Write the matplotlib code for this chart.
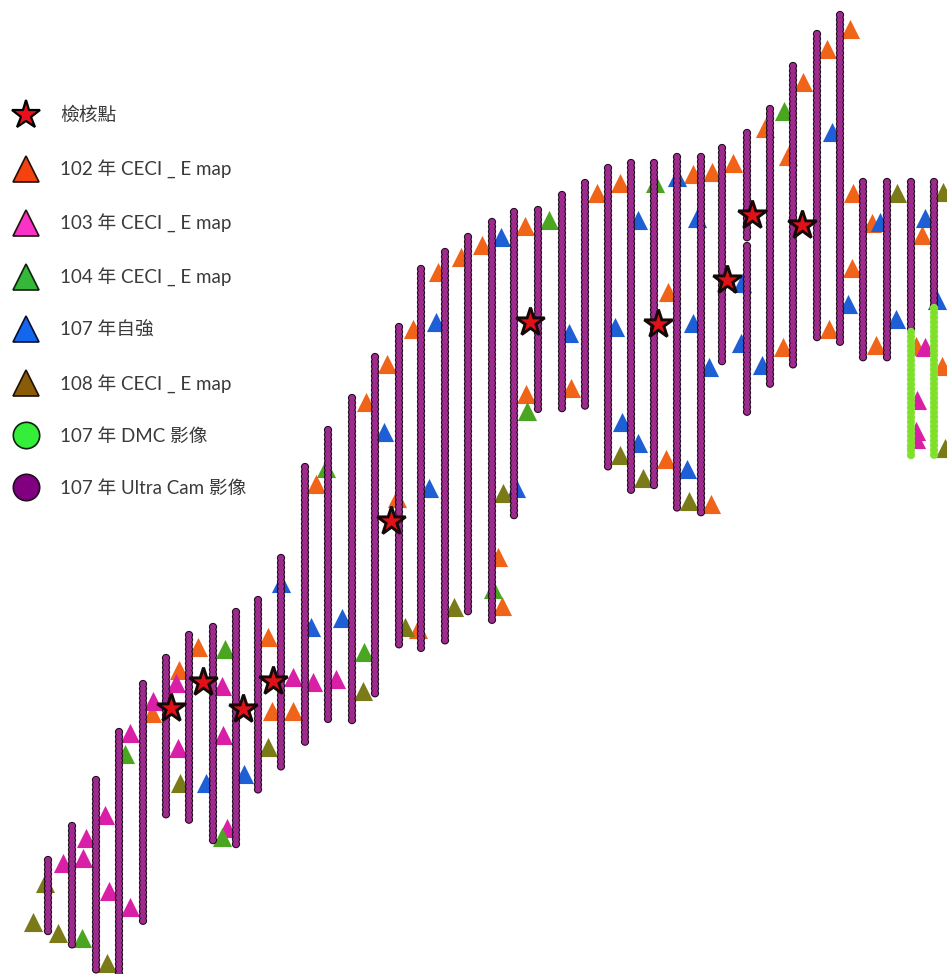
import matplotlib
matplotlib.use("Agg")
import matplotlib.pyplot as plt
from matplotlib.lines import Line2D

plt.rcParams['font.family'] = ['Lato', 'Noto Sans CJK TC', 'DejaVu Sans']
plt.rcParams['lines.scale_dashes'] = False

# Flight strips of the 107 Ultra Cam images: x, top y, bottom y (image coordinates)
ultra_x = [48, 72, 96, 119, 143, 166, 189, 213, 236, 258, 281, 305, 328, 352, 375, 399, 421, 445, 468, 492,
           514, 538, 562, 585, 608, 631, 654, 677, 701, 722, 747, 747, 770, 793, 817, 840, 863, 887, 911, 934]
ultra_top = [860, 826, 780, 732, 684, 658, 635, 627, 612, 600, 558, 467, 430, 398, 357, 327, 269, 252, 237, 222,
             212, 210, 195, 183, 168, 163, 163, 157, 157, 148, 133, 246, 109, 66, 34, 15, 182, 182, 182, 182]
ultra_bottom = [932, 947, 974, 974, 922, 818, 823, 843, 845, 792, 767, 743, 722, 722, 695, 647, 648, 645, 615, 620,
                518, 410, 410, 410, 467, 490, 489, 512, 515, 365, 239, 415, 387, 365, 341, 342, 358, 358, 332, 308]

# Flight strips of the 107 DMC images
dmc_x = [911, 934]
dmc_top = [332, 308]
dmc_bottom = [458, 458]

# Check points
check_x = [171, 203, 243, 273, 391, 530, 658, 727, 752, 802]
check_y = [708, 682, 709, 681, 521, 322, 324, 280, 215, 225]

# Control points per year
y102_x = [597, 620, 693, 712, 733, 765, 803, 827, 850, 788, 853, 852, 872, 668, 876, 922, 916, 942, 316, 387, 366, 413,
          438, 461, 482, 525, 526, 571, 397, 498, 502, 418, 293, 272, 268, 666, 711, 783, 829, 198, 179, 152]
y102_y = [193, 183, 174, 172, 163, 128, 82, 49, 29, 156, 193, 268, 223, 292, 345, 235, 346, 366, 484, 364, 402, 329,
          272, 257, 245, 226, 394, 388, 498, 557, 606, 629, 711, 711, 637, 459, 504, 347, 329, 647, 670, 713]
y103_x = [63, 86, 83, 105, 109, 130, 130, 153, 176, 178, 222, 223, 227, 293, 313, 336, 925, 917, 916, 916]
y103_y = [863, 838, 858, 815, 891, 907, 733, 701, 683, 748, 686, 735, 828, 677, 682, 679, 347, 400, 431, 439]
y104_x = [125, 82, 222, 225, 549, 527, 326, 655, 784, 364, 493]
y104_y = [754, 938, 837, 649, 220, 411, 468, 183, 111, 652, 589]
y107_x = [384, 436, 501, 429, 516, 311, 342, 281, 244, 206, 638, 697, 677, 832, 569, 615, 693, 709, 742, 741, 762,
          848, 622, 638, 687, 880, 896, 925, 937]
y107_y = [432, 322, 237, 488, 488, 627, 618, 583, 774, 783, 220, 218, 177, 132, 333, 327, 323, 367, 283, 343, 365,
          304, 422, 443, 469, 222, 319, 218, 300]
y108_x = [33, 58, 45, 107, 180, 268, 363, 405, 454, 503, 620, 643, 689, 897, 943, 945]
y108_y = [922, 933, 883, 963, 783, 747, 691, 627, 607, 493, 455, 478, 501, 193, 192, 448]

legend_labels = ['檢核點', '102 年 CECI _ E map', '103 年 CECI _ E map', '104 年 CECI _ E map',
                 '107 年自強', '108 年 CECI _ E map', '107 年 DMC 影像', '107 年 Ultra Cam 影像']

fig = plt.figure(figsize=(9.47, 9.74), dpi=100, facecolor='white')
ax = fig.add_axes([0, 0, 1, 1])
ax.set_xlim(0, 947)
ax.set_ylim(974, 0)
ax.axis('off')

# triangles sit under the strips
tri_sets = [
    (y102_x, y102_y, '#F0641A'),
    (y103_x, y103_y, '#D81FA6'),
    (y104_x, y104_y, '#4AA620'),
    (y107_x, y107_y, '#1F5FD6'),
    (y108_x, y108_y, '#7A7A18'),
]
for xs, ys, c in tri_sets:
    ax.scatter(xs, ys, marker='^', s=190, c=c, linewidths=0, zorder=2)


def strips(xs, tops, bottoms, fill, edge, z):
    dots = (0, (0.01, 3.4))
    for x, t, b in zip(xs, tops, bottoms):
        ax.plot([x, x], [t, b], color=edge, lw=6.0, ls=dots, dash_capstyle='round', zorder=z)
        ax.plot([x, x], [t, b], color=fill, lw=4.5, ls=dots, dash_capstyle='round', zorder=z + 0.1)


strips(ultra_x, ultra_top, ultra_bottom, '#9E2A8E', '#1E081C', 3)
strips(dmc_x, dmc_top, dmc_bottom, '#7FE028', '#8CE048', 4)

ax.scatter(check_x, check_y, marker='*', s=460, c='#E01218', edgecolors='#140808', linewidths=2.1,
           joinstyle='miter', zorder=6)

handles = [
    Line2D([], [], ls='', marker='*', ms=21, mfc='#E8101A', mec='black', mew=1.6),
    Line2D([], [], ls='', marker='^', ms=18.5, mfc='#F5420F', mec='#201008', mew=1.2),
    Line2D([], [], ls='', marker='^', ms=18.5, mfc='#FA33C8', mec='#201008', mew=1.2),
    Line2D([], [], ls='', marker='^', ms=18.5, mfc='#35B83A', mec='#102010', mew=1.2),
    Line2D([], [], ls='', marker='^', ms=18.5, mfc='#1267EE', mec='#081030', mew=1.2),
    Line2D([], [], ls='', marker='^', ms=18.5, mfc='#8A5C08', mec='#201008', mew=1.2),
    Line2D([], [], ls='', marker='o', ms=19, mfc='#35EE3A', mec='#102010', mew=1.2),
    Line2D([], [], ls='', marker='o', ms=19, mfc='#80007F', mec='#201020', mew=1.2),
]
leg = ax.legend(handles, legend_labels, loc='upper left', bbox_to_anchor=(10.5 / 947, 1 - 107 / 974),
                bbox_transform=fig.transFigure,
                frameon=False, fontsize=13.5, labelspacing=1.87, handletextpad=1.05, handlelength=1.6,
                borderaxespad=0, borderpad=0, labelcolor='#3a3a3a')
leg.set_zorder(10)

fig.savefig('out.png', dpi=100, facecolor='white')
